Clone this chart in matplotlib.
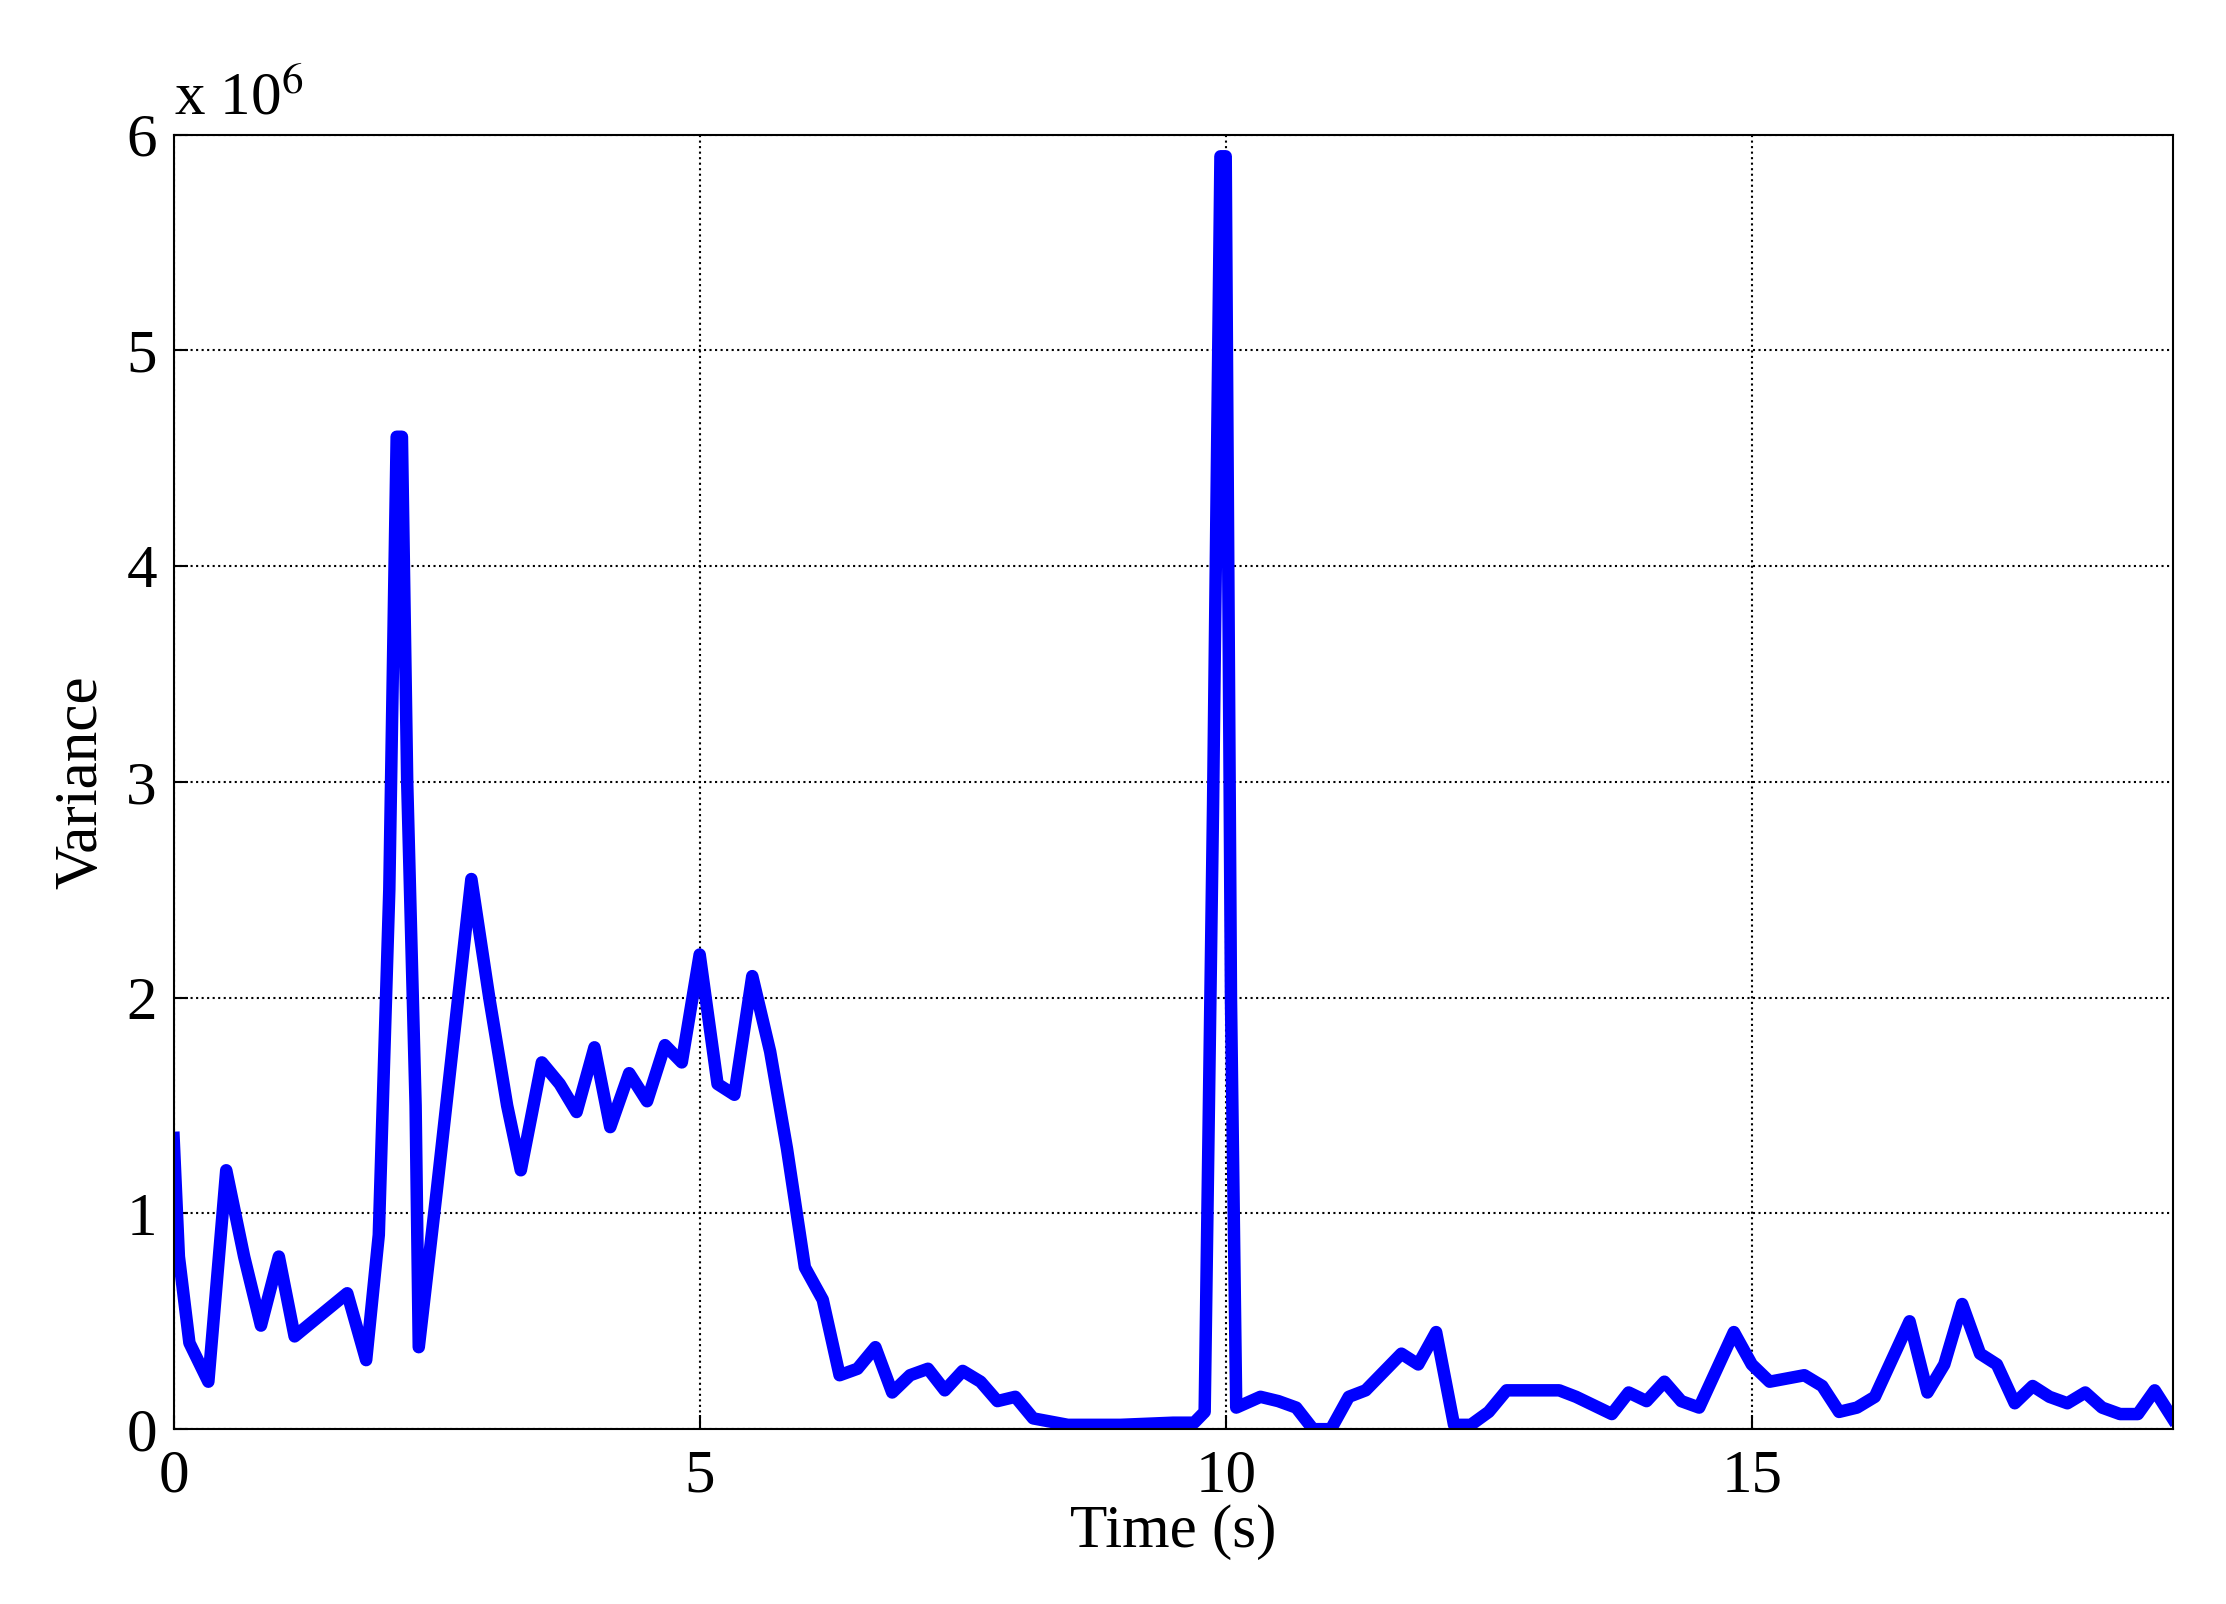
import matplotlib
matplotlib.use('Agg')
import matplotlib.pyplot as plt

plt.rcParams['font.family'] = ['Liberation Serif', 'DejaVu Serif']
plt.rcParams['mathtext.fontset'] = 'stix'

time_s = [0, 0.05, 0.15, 0.33, 0.5, 0.67, 0.83, 1.0, 1.15, 1.65, 1.83, 1.95, 2.05, 2.12, 2.17, 2.22,
          2.3, 2.33, 2.5, 2.83, 3.0, 3.17, 3.3, 3.5, 3.67, 3.83, 4.0, 4.15, 4.33, 4.5, 4.67, 4.83,
          5.0, 5.17, 5.33, 5.5, 5.67, 5.83, 6.0, 6.17, 6.33, 6.5, 6.67, 6.83, 7.0, 7.17, 7.33, 7.5,
          7.67, 7.83, 8.0, 8.17, 8.5, 9.0, 9.5, 9.7, 9.8, 9.88, 9.95, 10.0, 10.05, 10.1, 10.33, 10.5,
          10.67, 10.83, 11.0, 11.17, 11.33, 11.67, 11.83, 12.0, 12.17, 12.33, 12.5, 12.67, 13.0, 13.17,
          13.33, 13.67, 13.83, 14.0, 14.17, 14.33, 14.5, 14.83, 15.0, 15.17, 15.5, 15.67, 15.83, 16.0,
          16.17, 16.5, 16.67, 16.83, 17.0, 17.17, 17.33, 17.5, 17.67, 17.83, 18.0, 18.17, 18.33, 18.5,
          18.67, 18.83, 19.0]
variance_e6 = [1.35, 0.8, 0.4, 0.22, 1.2, 0.8, 0.48, 0.8, 0.43, 0.63, 0.32, 0.9, 2.5, 4.6, 4.6, 3.0,
               1.5, 0.38, 1.1, 2.55, 2.0, 1.5, 1.2, 1.7, 1.6, 1.47, 1.77, 1.4, 1.65, 1.52, 1.78, 1.7,
               2.2, 1.6, 1.55, 2.1, 1.75, 1.3, 0.75, 0.6, 0.25, 0.28, 0.38, 0.17, 0.25, 0.28, 0.18, 0.27,
               0.22, 0.13, 0.15, 0.05, 0.02, 0.02, 0.03, 0.03, 0.08, 2.9, 5.9, 5.9, 2.0, 0.1, 0.15, 0.13,
               0.1, 0.0, 0.0, 0.15, 0.18, 0.35, 0.3, 0.45, 0.02, 0.02, 0.08, 0.18, 0.18, 0.18,
               0.15, 0.07, 0.17, 0.13, 0.22, 0.13, 0.1, 0.45, 0.3, 0.22, 0.25, 0.2, 0.08, 0.1,
               0.15, 0.5, 0.17, 0.3, 0.58, 0.35, 0.3, 0.12, 0.2, 0.15, 0.12, 0.17, 0.1, 0.07,
               0.07, 0.18, 0.05]

fig = plt.figure(figsize=(22.26, 16.04), dpi=100)
ax = fig.add_axes([0.078, 0.109, 0.898, 0.807])
ax.plot(time_s, variance_e6, color='#0000ff', lw=9)
ax.set_xlim(0, 19)
ax.set_ylim(0, 6)
ax.set_xticks([0, 5, 10, 15])
ax.set_yticks(range(7))
ax.grid(True, color='black', linestyle=':', lw=1.5)
ax.tick_params(labelsize=44, direction='in', length=10, width=1.5)
ax.tick_params(axis='x', pad=14)
ax.tick_params(axis='y', pad=12)
for s in ax.spines.values():
    s.set_linewidth(1.5)
ax.set_xlabel('Time (s)', fontsize=44, labelpad=0)
ax.set_ylabel('Variance', fontsize=44, labelpad=12)
ax.text(0, 1.005, r'x 10$^6$', transform=ax.transAxes, fontsize=44, va='bottom')
fig.savefig('out.png', dpi=100)
